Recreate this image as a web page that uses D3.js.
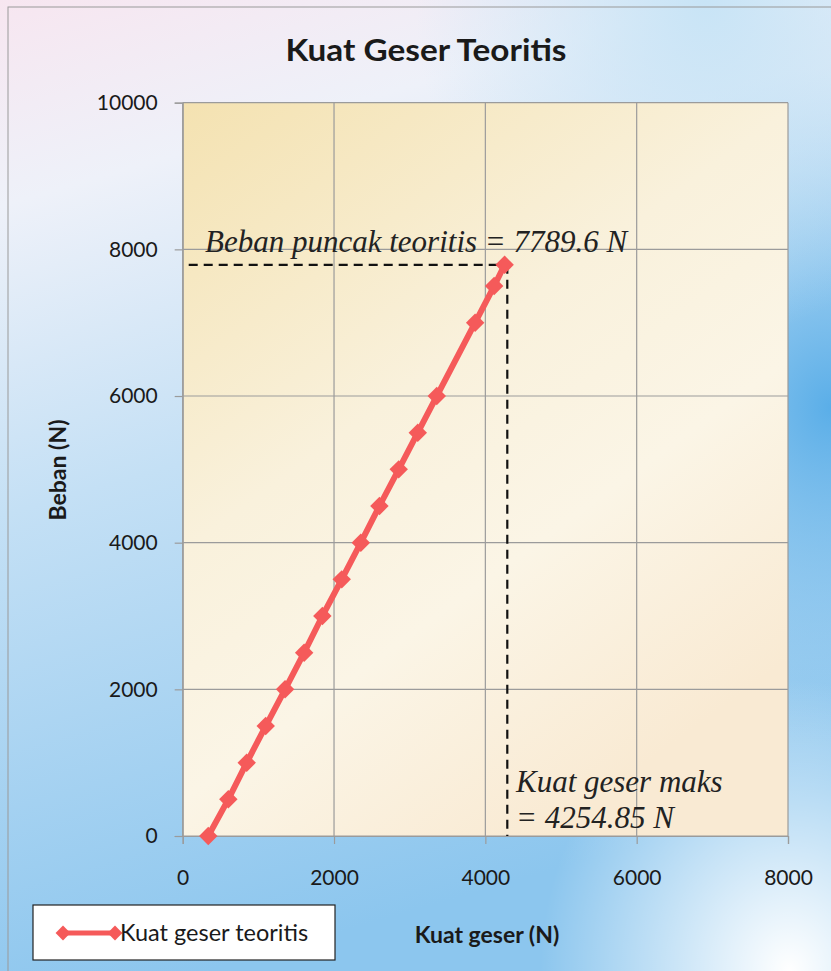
<!DOCTYPE html>
<html>
<head>
<meta charset="utf-8">
<script src="https://cdn.jsdelivr.net/npm/d3@7"></script>
<style>
html,body{margin:0;padding:0;background:#fff;}
svg{display:block;}
</style>
</head>
<body>
<svg id="chart" width="831" height="971"></svg>
<script>
// ---- data ----
const loadValues = [0, 500, 1000, 1500, 2000, 2500, 3000, 3500, 4000, 4500, 5000, 5500, 6000, 7000, 7500, 7789.6];
const shearValues = [338, 603, 846, 1097, 1353, 1605, 1846, 2102, 2354, 2600, 2855, 3107, 3358, 3865, 4116, 4254.85];
const xTicks = [0, 2000, 4000, 6000, 8000];
const yTicks = [0, 2000, 4000, 6000, 8000, 10000];
const seriesName = "Kuat geser teoritis";
const titleText = "Kuat Geser Teoritis";
const xLabel = "Kuat geser (N)";
const yLabel = "Beban (N)";
const peakLoad = 7789.6;
const peakShearGuide = 4290;
const annoTop = "Beban puncak teoritis = 7789.6 N";
const annoBottom = ["Kuat geser maks", "= 4254.85 N"];

const svg = d3.select("#chart");
const W = 831, H = 971;
const m = {left: 182.7, right: 788, top: 102.7, bottom: 836};

const defs = svg.append("defs");
// background gradients
const bg = defs.append("linearGradient").attr("id","bg").attr("x1","0").attr("y1","0").attr("x2","0.25").attr("y2","1");
bg.append("stop").attr("offset","0").attr("stop-color","#f7e6f0");
bg.append("stop").attr("offset","0.2").attr("stop-color","#eef1f9");
bg.append("stop").attr("offset","0.5").attr("stop-color","#c4e0f5");
bg.append("stop").attr("offset","1").attr("stop-color","#8cc6ee");
const rb = defs.append("radialGradient").attr("id","rb").attr("cx","1").attr("cy","0.42").attr("r","0.35");
rb.append("stop").attr("offset","0").attr("stop-color","#5aaee8").attr("stop-opacity","1");
rb.append("stop").attr("offset","1").attr("stop-color","#8cc6ee").attr("stop-opacity","0");
const wb = defs.append("radialGradient").attr("id","wb").attr("cx","0.95").attr("cy","1").attr("r","0.3");
wb.append("stop").attr("offset","0").attr("stop-color","#ffffff").attr("stop-opacity","1");
wb.append("stop").attr("offset","1").attr("stop-color","#ffffff").attr("stop-opacity","0");
const tr = defs.append("radialGradient").attr("id","tr").attr("cx","0.85").attr("cy","0").attr("r","0.35");
tr.append("stop").attr("offset","0").attr("stop-color","#c8e4f6").attr("stop-opacity","1");
tr.append("stop").attr("offset","1").attr("stop-color","#c8e4f6").attr("stop-opacity","0");
// plot gradient
const pg = defs.append("linearGradient").attr("id","pg").attr("x1","0").attr("y1","0").attr("x2","0.6").attr("y2","1");
pg.append("stop").attr("offset","0").attr("stop-color","#f4e2b1");
pg.append("stop").attr("offset","0.45").attr("stop-color","#f9f1dc");
pg.append("stop").attr("offset","0.7").attr("stop-color","#fbf5e6");
pg.append("stop").attr("offset","1").attr("stop-color","#f9ead3");

svg.append("rect").attr("x",0).attr("y",0).attr("width",W).attr("height",H).attr("fill","url(#bg)");
svg.append("rect").attr("x",0).attr("y",0).attr("width",W).attr("height",H).attr("fill","url(#rb)");
svg.append("rect").attr("x",0).attr("y",0).attr("width",W).attr("height",H).attr("fill","url(#tr)");
svg.append("rect").attr("x",0).attr("y",0).attr("width",W).attr("height",H).attr("fill","url(#wb)");
svg.append("rect").attr("x",8).attr("y",7).attr("width",W).attr("height",H).attr("fill","none").attr("stroke","#9a9a9a").attr("stroke-width",1);

const x = d3.scaleLinear().domain([0, 8000]).range([m.left, m.right]);
const y = d3.scaleLinear().domain([0, 10000]).range([m.bottom, m.top]);

// plot area
svg.append("rect").attr("x",m.left).attr("y",m.top).attr("width",m.right-m.left).attr("height",m.bottom-m.top)
  .attr("fill","url(#pg)");

// grid
const grid = svg.append("g").attr("stroke","#9b9b9b").attr("stroke-width",1.2);
yTicks.forEach(v => grid.append("line").attr("x1",m.left).attr("x2",m.right).attr("y1",y(v)).attr("y2",y(v)));
xTicks.forEach(v => grid.append("line").attr("y1",m.top).attr("y2",m.bottom).attr("x1",x(v)).attr("x2",x(v)));

// axes
const fontUI = "Lato, 'Open Sans', sans-serif";
const yAxis = svg.append("g").attr("transform",`translate(${m.left},0)`)
  .call(d3.axisLeft(y).tickValues(yTicks).tickSize(8).tickPadding(17).tickFormat(d3.format("d")));
const xAxis = svg.append("g").attr("transform",`translate(0,${m.bottom})`)
  .call(d3.axisBottom(x).tickValues(xTicks).tickSize(8).tickPadding(26).tickFormat(d3.format("d")));
[yAxis, xAxis].forEach(a => {
  a.select(".domain").attr("stroke","#9b9b9b").attr("stroke-width",1.2);
  a.selectAll(".tick line").attr("stroke","#9b9b9b").attr("stroke-width",1.2);
  a.selectAll(".tick text").attr("fill","#1a1a1a").style("font-family",fontUI).style("font-size","21px");
});

// dashed guides
const guide = svg.append("g").attr("stroke","#111").attr("stroke-width",2.2).attr("stroke-dasharray","9,6").attr("fill","none");
guide.append("line").attr("x1",m.left+6).attr("x2",x(peakShearGuide)).attr("y1",y(peakLoad)).attr("y2",y(peakLoad));
guide.append("line").attr("x1",x(peakShearGuide)).attr("x2",x(peakShearGuide)).attr("y1",y(peakLoad)).attr("y2",m.bottom);

// series
const data = loadValues.map((l,i)=>({x:shearValues[i], y:l}));
const red = "#f55a5a";
svg.append("path").datum(data)
  .attr("d", d3.line().x(d=>x(d.x)).y(d=>y(d.y)))
  .attr("fill","none").attr("stroke",red).attr("stroke-width",6).attr("stroke-linejoin","round");
const diamond = d3.symbol().type(d3.symbolSquare).size(170);
svg.append("g").selectAll("path").data(data).join("path")
  .attr("d", diamond).attr("transform", d=>`translate(${x(d.x)},${y(d.y)}) rotate(45)`).attr("fill",red);

// annotations
const serif = "'Liberation Serif', 'DejaVu Serif', serif";
const annoStyle = t => t.style("font-family",serif).style("font-style","italic").style("font-size","31px").attr("fill","#222");
svg.append("text").attr("x",205).attr("y",252).text(annoTop).call(annoStyle);
svg.append("text").attr("x",516).attr("y",792).text(annoBottom[0]).call(annoStyle);
svg.append("text").attr("x",516).attr("y",828).text(annoBottom[1]).call(annoStyle);

// title
svg.append("text").attr("x",426).attr("y",61).attr("text-anchor","middle").text(titleText)
  .attr("textLength",281).attr("lengthAdjust","spacingAndGlyphs")
  .style("font-family",fontUI).style("font-weight","bold").style("font-size","30px").attr("fill","#1a1a1a");
// axis titles
svg.append("text").attr("x",487).attr("y",943).attr("text-anchor","middle").text(xLabel)
  .style("font-family",fontUI).style("font-weight","bold").style("font-size","23px").attr("fill","#1a1a1a");
svg.append("text").attr("transform","translate(66,470) rotate(-90)").attr("text-anchor","middle").text(yLabel)
  .style("font-family",fontUI).style("font-weight","bold").style("font-size","23px").attr("fill","#1a1a1a");

// legend
const lg = svg.append("g");
lg.append("rect").attr("x",33).attr("y",905).attr("width",302).attr("height",55).attr("fill","#fff").attr("stroke","#222").attr("stroke-width",1.2);
lg.append("line").attr("x1",63).attr("x2",115).attr("y1",933).attr("y2",933).attr("stroke",red).attr("stroke-width",5);
const legDiamond = d3.symbol().type(d3.symbolSquare).size(110);
[63,115].forEach(px => lg.append("path").attr("d",legDiamond).attr("transform",`translate(${px},933) rotate(45)`).attr("fill",red));
lg.append("text").attr("x",120).attr("y",941).text(seriesName)
  .style("font-family",fontUI).style("font-size","23.5px").attr("fill","#1a1a1a");
</script>
</body>
</html>
